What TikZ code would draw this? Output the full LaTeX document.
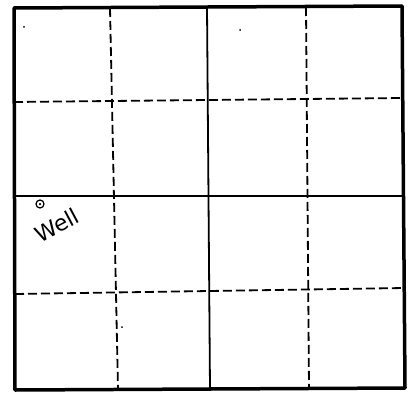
\documentclass[tikz,border=0pt]{standalone}
\usepackage{fontspec}
\setmainfont{DejaVu Sans}
\begin{document}
\begin{tikzpicture}[x=1pt,y=-1pt,
  border/.style={line width=3.5pt, line join=round},
  solidline/.style={line width=1.8pt},
  dashline/.style={line width=1.8pt, dash pattern=on 9pt off 4pt},
  speck/.style={fill=black, inner sep=0pt, minimum size=2pt, circle}]
\useasboundingbox (0,0) rectangle (409,396);
\fill[white] (0,0) rectangle (409,396);
% named corners / grid points
\coordinate (tl) at (14,8);
\coordinate (tr) at (402,6);
\coordinate (br) at (405,388);
\coordinate (bl) at (15,390);
% dashed verticals
\coordinate (v1t) at (110,8);  \coordinate (v1b) at (118,389);
\coordinate (v3t) at (306,7);  \coordinate (v3b) at (309,388);
% solid vertical
\coordinate (v2t) at (207,7);  \coordinate (v2b) at (210,389);
% dashed horizontals
\coordinate (h1l) at (14,102); \coordinate (h1r) at (402,98);
\coordinate (h3l) at (15,294); \coordinate (h3r) at (404,288);
% solid horizontal
\coordinate (h2l) at (14,196); \coordinate (h2r) at (403,196);
\draw[dashline] (v1t) -- (v1b);
\draw[dashline] (v3t) -- (v3b);
\draw[dashline] (h1l) -- (h1r);
\draw[dashline] (h3l) -- (h3r);
\draw[solidline] (v2t) -- (v2b);
\draw[solidline] (h2l) -- (h2r);
\draw[border] (tl) -- (tr) -- (br) -- (bl) -- cycle;
% well symbol and label
\node[circle, draw, line width=1.2pt, minimum size=8pt, inner sep=0pt] (wellsym) at (40,204) {};
\node[speck, minimum size=2.5pt] (welldot) at (wellsym.center) {};
\node[rotate=28, font=\fontsize{22}{22}\selectfont, inner sep=0pt] (well) at (57,225) {Well};
% specks
\node[speck] (s1) at (24,27) {};
\node[speck] (s2) at (240,30) {};
\node[speck] (s3) at (122,327) {};
\end{tikzpicture}
\end{document}
